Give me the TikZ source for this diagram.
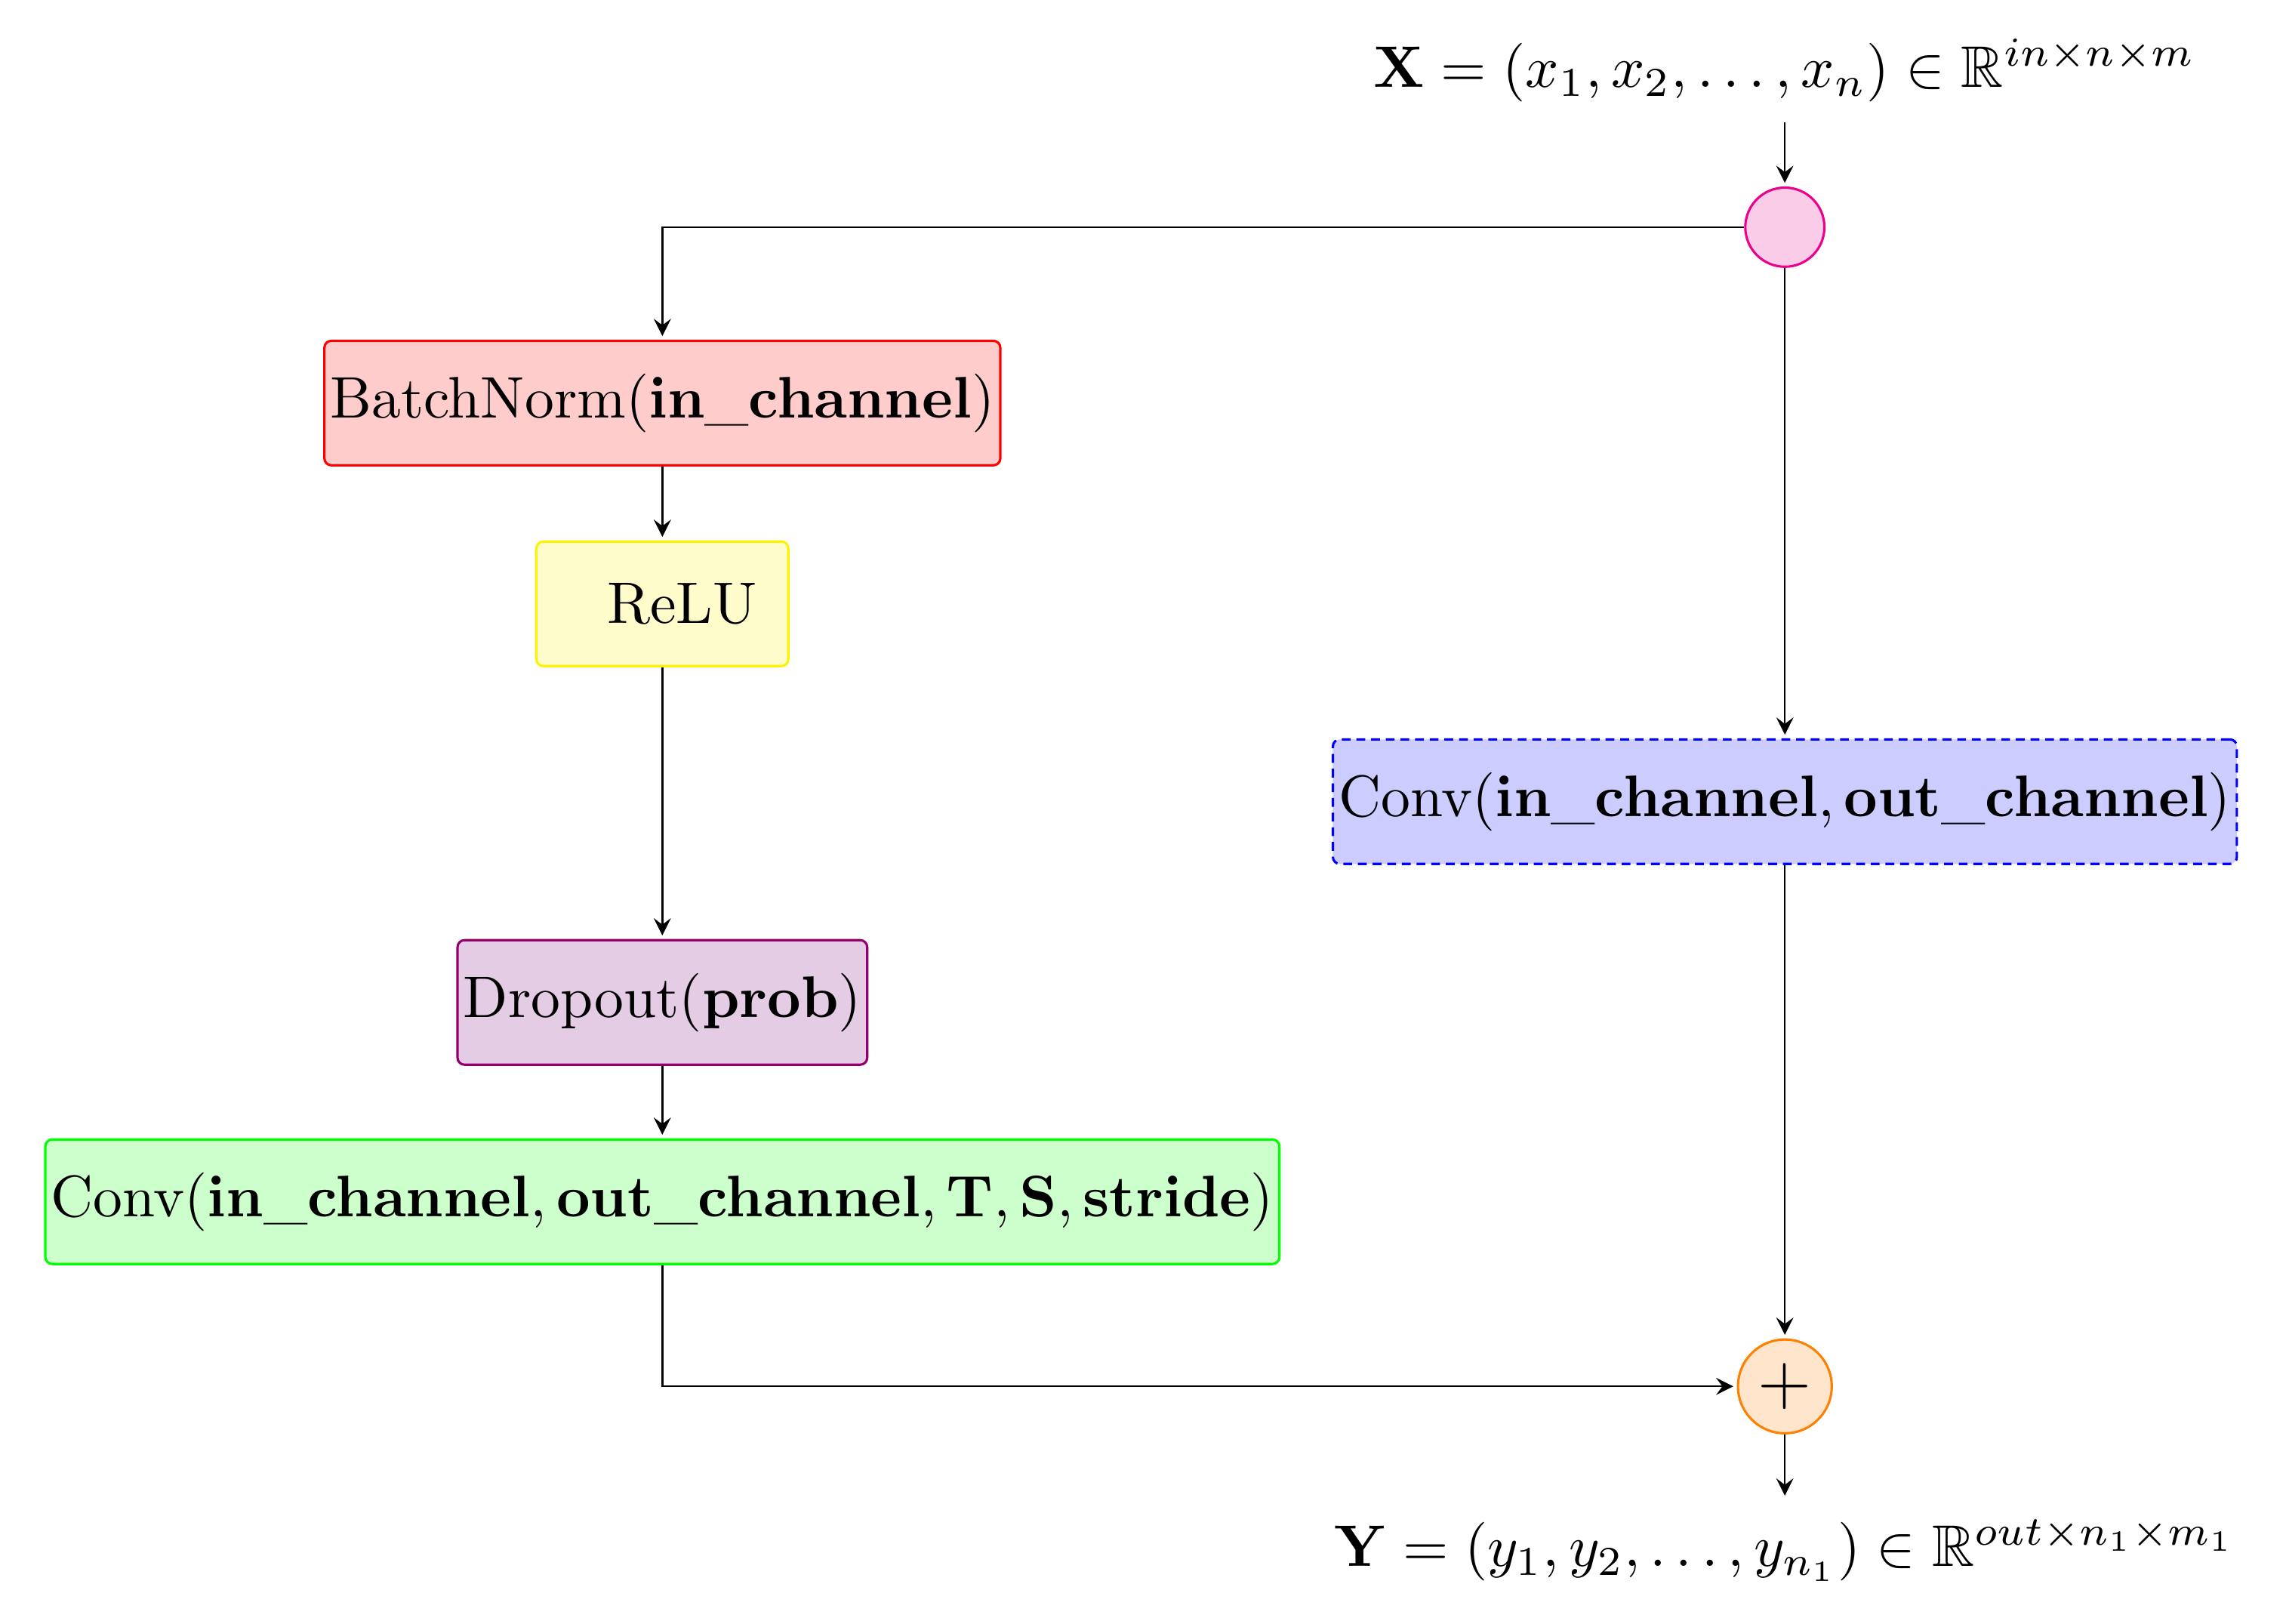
\documentclass[tikz,border=0pt]{standalone}
\usepackage{amsmath,amssymb}
\begin{document}
\begin{tikzpicture}[x=0.25pt,y=-0.25pt,
  box/.style={draw,rounded corners=1.2pt,minimum height=21.25pt,inner sep=1pt,font=\normalsize},
  arr/.style={->,>=stealth,line width=0.3pt,shorten >=0.6pt},
  circ/.style={circle,draw,line width=0.4pt}]
\useasboundingbox (0,0) rectangle (1560,1108);
\node (X) at (1218,48) {$\mathbf{X}=(x_1,x_2,\ldots,x_n)\in\mathbb{R}^{in\times n\times m}$};
\node[circ,draw=magenta,fill=magenta!20,minimum size=13.5pt,inner sep=0] (s) at (1218,155) {};
\node[box,draw=red,fill=red!20,minimum width=111pt] (bn) at (452,275) {BatchNorm($\mathbf{in\_channel}$)};
\node[box,draw=yellow,fill=yellow!20,minimum width=43pt] (relu) at (452,412) {\ \ ReLU};
\node[box,draw=violet!70!purple,fill=violet!20,minimum width=69pt] (do) at (452,684) {Dropout($\mathbf{prob}$)};
\node[box,draw=green,fill=green!20,minimum width=208pt] (cg) at (452,820) {Conv($\mathbf{in\_channel},\mathbf{out\_channel},\mathbf{T},\mathbf{S},\mathbf{stride}$)};
\node[box,draw=blue,fill=blue!20,dash pattern=on 1.5pt off 1pt,minimum width=149pt] (cb) at (1218,547) {Conv($\mathbf{in\_channel},\mathbf{out\_channel}$)};
\node[circ,draw=orange,fill=orange!20,minimum size=16pt,inner sep=0,font=\large] (p) at (1218,946) {$+$};
\node (Y) at (1218,1058) {$\mathbf{Y}=(y_1,y_2,\ldots,y_{n_1})\in\mathbb{R}^{out\times n_1\times m_1}$};
\draw[arr] (X) -- (s);
\draw[arr] (s.west) -| (bn.north);
\draw[arr] (bn) -- (relu);
\draw[arr] (relu) -- (do);
\draw[arr] (do) -- (cg);
\draw[arr] (s) -- (cb);
\draw[arr] (cb) -- (p);
\draw[arr] (cg.south) |- (p.west);
\draw[arr] (p) -- (Y);
\end{tikzpicture}
\end{document}
